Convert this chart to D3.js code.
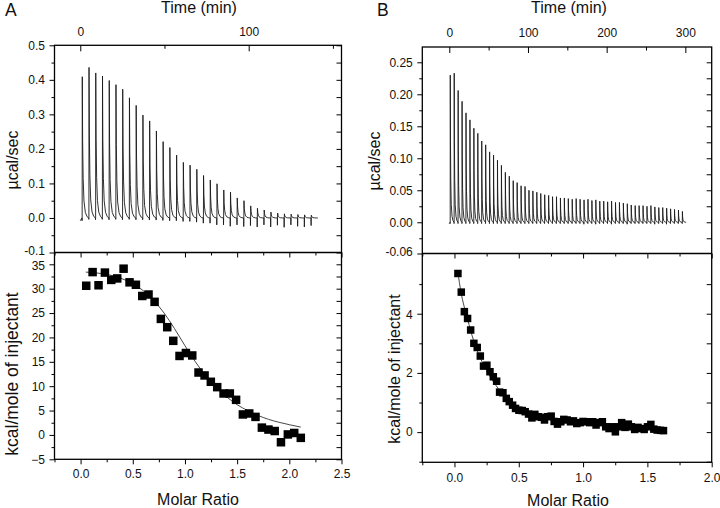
<!DOCTYPE html>
<html><head><meta charset="utf-8">
<script src="https://cdn.jsdelivr.net/npm/d3@7"></script>
<style>
body{margin:0;background:#fff}
svg{display:block}
text{font-family:"Liberation Sans",Arial,Helvetica,sans-serif;fill:#111}
</style>
</head><body>
<svg id="c" width="720" height="508"></svg>
<script>
// ---------------- DATA ----------------
// Panel A, raw thermogram (injection start times in min, peak heights in µcal/sec, small dips)
const injTimeA = [1,5,9,13,17,21,25,29,33,37,41,45,49,53,57,61,65,69,73,77,81,85,89,93,97,101,105,109,113,117,121,125,129,133,137];
const peakA = [0.409,0.436,0.420,0.411,0.398,0.386,0.373,0.348,0.326,0.298,0.281,0.252,0.221,0.204,0.182,0.161,0.153,0.141,0.123,0.110,0.099,0.081,0.075,0.058,0.050,0.035,0.028,0.023,0.017,0.014,0.012,0.011,0.010,0.009,0.008];
const dipA = [-0.008,-0.004,-0.005,-0.004,-0.005,-0.004,-0.005,-0.004,-0.005,-0.005,-0.006,-0.006,-0.007,-0.008,-0.008,-0.010,-0.010,-0.012,-0.015,-0.015,-0.020,-0.020,-0.024,-0.020,-0.025,-0.022,-0.026,-0.020,-0.026,-0.021,-0.027,-0.020,-0.024,-0.026,-0.022];
const traceEndA = 141;
// Panel A, integrated heats
const ratioA = [0.054,0.115,0.172,0.233,0.294,0.351,0.412,0.469,0.530,0.591,0.651,0.709,0.769,0.830,0.888,0.948,1.009,1.070,1.130,1.188,1.248,1.309,1.370,1.430,1.490,1.555,1.616,1.676,1.737,1.800,1.860,1.920,1.986,2.047,2.110];
const heatA = [30.6,33.4,30.7,33.3,31.8,32.1,34.1,31.3,30.8,28.5,28.8,27.3,23.8,22.1,19.3,16.2,16.8,16.3,12.8,12.2,10.9,9.8,8.5,8.5,7.2,4.2,4.4,3.7,1.5,1.1,0.8,-1.5,0.1,0.4,-0.6];
const fitRatioA = [0.05,0.2,0.35,0.5,0.6,0.7,0.8,0.9,1.0,1.1,1.2,1.3,1.4,1.5,1.6,1.7,1.8,1.9,2.0,2.11];
const fitHeatA = [33.4,33.1,32.4,31.0,29.6,27.6,25.0,21.8,18.3,15.0,12.1,9.7,7.8,6.2,5.0,4.0,3.2,2.6,2.1,1.6];

// Panel B, raw thermogram
const injTimeB = [1,6,11,16,21,26,31,36,41,46,51,56,61,66,71,76,81,86,91,96,101,106,111,116,121,126,131,136,141,146,151,156,161,166,171,176,181,186,191,196,201,206,211,216,221,226,231,236,241,246,251,256,261,266,271,276,281,286,291,296];
const peakB = [0.230,0.233,0.206,0.189,0.171,0.160,0.147,0.139,0.127,0.121,
               0.110,0.105,0.097,0.089,0.078,0.072,0.065,0.062,0.057,0.056,
               0.050,0.049,0.047,0.045,0.043,0.042,0.040,0.040,0.038,0.038,
               0.037,0.036,0.037,0.036,0.035,0.036,0.034,0.035,0.033,0.033,
               0.032,0.033,0.031,0.031,0.030,0.029,0.027,0.026,0.026,0.026,
               0.025,0.026,0.024,0.023,0.023,0.022,0.021,0.020,0.019,0.017];
const dipB = [-0.002,-0.002,-0.002,-0.002,-0.002,-0.002,-0.002,-0.002,-0.002,-0.002,
              -0.002,-0.002,-0.002,-0.002,-0.002,-0.002,-0.002,-0.002,-0.002,-0.002,
              -0.002,-0.002,-0.002,-0.002,-0.002,-0.002,-0.002,-0.002,-0.002,-0.002,
              -0.002,-0.002,-0.002,-0.002,-0.003,-0.002,-0.002,-0.003,-0.002,-0.002,
              -0.002,-0.003,-0.002,-0.002,-0.002,-0.003,-0.002,-0.002,-0.002,-0.002,
              -0.002,-0.002,-0.003,-0.002,-0.002,-0.003,-0.002,-0.002,-0.002,-0.002];
const traceEndB = 301;
// Panel B, integrated heats
const ratioB = [0.027,0.053,0.077,0.102,0.126,0.151,0.177,0.201,0.226,0.252,
                0.276,0.302,0.328,0.351,0.377,0.403,0.426,0.452,0.475,0.501,
                0.527,0.550,0.576,0.602,0.625,0.651,0.677,0.700,0.726,0.752,
                0.775,0.801,0.827,0.850,0.876,0.902,0.925,0.951,0.977,1.000,
                1.026,1.052,1.075,1.101,1.127,1.150,1.176,1.202,1.225,1.251,
                1.277,1.300,1.326,1.352,1.375,1.401,1.427,1.449,1.475,1.501,
                1.527,1.550,1.576,1.602,1.625];
const heatB = [5.36,4.73,4.07,3.84,3.45,3.00,2.86,2.57,2.23,2.26,
               2.04,1.87,1.72,1.35,1.33,1.14,1.03,0.91,0.80,0.74,
               0.73,0.69,0.61,0.48,0.60,0.52,0.50,0.41,0.52,0.54,
               0.36,0.27,0.35,0.43,0.41,0.35,0.38,0.29,0.32,0.36,
               0.35,0.32,0.35,0.24,0.32,0.35,0.18,0.12,0.18,0.01,
               0.18,0.32,0.16,0.27,0.18,0.09,0.16,0.12,0.09,0.18,
               0.26,0.10,0.07,0.06,0.05];
const fitRatioB = [0.027,0.05,0.1,0.15,0.2,0.25,0.3,0.35,0.4,0.5,0.6,0.7,0.8,1.0,1.2,1.4,1.625];
const fitHeatB = [5.38,4.75,3.85,3.08,2.52,2.08,1.72,1.42,1.17,0.84,0.62,0.49,0.41,0.31,0.23,0.16,0.09];

// tick labels
const timeLabelsA = [0,100], timeMinorA = [50,150];
const timeLabelsB = [0,100,200,300], timeMinorB = [50,150,250];
const upperTicksA = [-0.1,0,0.1,0.2,0.3,0.4,0.5];
const upperLabelsA = ["-0.1","0.0","0.1","0.2","0.3","0.4","0.5"];
const upperMinorA = [-0.05,0.05,0.15,0.25,0.35,0.45];
const upperTicksB = [0,0.05,0.10,0.15,0.20,0.25];
const upperLabelsB = ["-0.06","0.00","0.05","0.10","0.15","0.20","0.25"];
const upperMinorB = [-0.025,0.025,0.075,0.125,0.175,0.225];
const lowerTicksA = [-5,0,5,10,15,20,25,30,35];
const lowerMinorA = [-2.5,2.5,7.5,12.5,17.5,22.5,27.5,32.5];
const lowerTicksB = [0,2,4];
const lowerMinorB = [-1,1,3,5];
const ratioTicksA = [0,0.5,1.0,1.5,2.0,2.5];
const ratioMinorA = [-0.25,0.25,0.75,1.25,1.75,2.25];
const ratioTicksB = [0,0.5,1.0,1.5,2.0];
const ratioMinorB = [-0.25,0.25,0.75,1.25,1.75];

// peak glyph: [fraction of interval, fraction of peak height, fraction of dip]
const peakGlyph = [[0,0,0],[0.012,0,1],[0.03,0,0],[0.05,1,0],[0.1,0.55,0],[0.18,0.28,0],[0.3,0.12,0],[0.5,0.04,0],[0.75,0.01,0]];

// ---------------- DRAW ----------------
const svg = d3.select('#c');
const FONT = '"Liberation Sans",Arial,Helvetica,sans-serif';

function styleAxis(g, size) {
  g.select('.domain').remove();
  g.selectAll('line').attr('stroke', '#000').attr('stroke-width', 1);
  g.selectAll('text').attr('font-size', size).attr('font-family', FONT).attr('fill', '#111');
  return g;
}

function drawPanel(p) {
  const g = svg.append('g');
  const xT = d3.scaleLinear().domain(p.timeDomain).range([p.left, p.right]);
  const yU = d3.scaleLinear().domain(p.upperDomain).range([p.mid, p.top]);
  const xM = d3.scaleLinear().domain(p.ratioDomain).range([p.left, p.right]);
  const yL = d3.scaleLinear().domain(p.lowerDomain).range([p.bottom, p.mid]);

  // raw trace
  const pts = [[0, p.dip[0]]];
  p.inj.forEach((t, i) => {
    p.glyph.forEach(gl => pts.push([t + gl[0] * p.interval, p.peak[i] * gl[1] + p.dip[i] * gl[2]]));
  });
  pts.push([p.traceEnd, 0]);
  g.append('path')
    .attr('d', d3.line().x(d => xT(d[0])).y(d => yU(d[1]))(pts))
    .attr('fill', 'none').attr('stroke', '#1a1a1a').attr('stroke-width', 0.9)
    .attr('stroke-linejoin', 'round');

  // fit line
  const fit = p.fitX.map((x, i) => [x, p.fitY[i]]);
  g.append('path')
    .attr('d', d3.line().curve(d3.curveMonotoneX).x(d => xM(d[0])).y(d => yL(d[1]))(fit))
    .attr('fill', 'none').attr('stroke', '#333').attr('stroke-width', 0.9);

  // squares
  g.selectAll('rect.pt').data(p.ratio).join('rect').attr('class', 'pt')
    .attr('x', (d) => xM(d) - p.sq / 2)
    .attr('y', (d, i) => yL(p.heat[i]) - p.sq / 2)
    .attr('width', p.sq).attr('height', p.sq).attr('fill', '#000');

  // frame
  g.append('rect').attr('x', p.left).attr('y', p.top)
    .attr('width', p.right - p.left).attr('height', p.bottom - p.top)
    .attr('fill', 'none').attr('stroke', '#000').attr('stroke-width', 1.3);
  g.append('line').attr('x1', p.left).attr('x2', p.right).attr('y1', p.mid).attr('y2', p.mid)
    .attr('stroke', '#000').attr('stroke-width', 1.3);

  // time axis (top)
  styleAxis(g.append('g').attr('transform', `translate(0,${p.top})`)
    .call(d3.axisTop(xT).tickValues(p.timeLabels).tickSize(-6).tickPadding(p.timePad).tickFormat(d3.format('d'))), 12);
  styleAxis(g.append('g').attr('transform', `translate(0,${p.top})`)
    .call(d3.axisTop(xT).tickValues(p.timeMinor).tickSize(-3.5).tickFormat('')), 12);

  // upper y axis
  const uVals = p.upperLabelBottom ? [yU.domain()[0]].concat(p.upperTicks) : p.upperTicks;
  const uAx = styleAxis(g.append('g').attr('transform', `translate(${p.left},0)`)
    .call(d3.axisLeft(yU).tickValues(uVals).tickSize(5).tickPadding(4.5)
      .tickFormat((d, i) => p.upperLabels[i])), 12);
  // nudge the bottom label up slightly so it does not collide with the lower panel's top label
  uAx.selectAll('.tick text').filter((d, i) => i === 0).attr('dy', '0.2em');
  styleAxis(g.append('g').attr('transform', `translate(${p.left},0)`)
    .call(d3.axisLeft(yU).tickValues(p.upperMinor).tickSize(3).tickFormat('')), 12);
  styleAxis(g.append('g').attr('transform', `translate(${p.right},0)`)
    .call(d3.axisRight(yU).tickValues(p.upperTicks.concat(p.upperMinor)).tickSize(-5).tickFormat('')), 12);

  // lower y axis
  const lAx = styleAxis(g.append('g').attr('transform', `translate(${p.left},0)`)
    .call(d3.axisLeft(yL).tickValues(p.lowerTicks).tickSize(5).tickPadding(4.5).tickFormat(d3.format('d'))), 12);
  lAx.selectAll('.tick text').filter(d => d === p.lowerTicks[p.lowerTicks.length - 1]).attr('dy', '0.4em');
  styleAxis(g.append('g').attr('transform', `translate(${p.left},0)`)
    .call(d3.axisLeft(yL).tickValues(p.lowerMinor).tickSize(3).tickFormat('')), 12);
  styleAxis(g.append('g').attr('transform', `translate(${p.right},0)`)
    .call(d3.axisRight(yL).tickValues(p.lowerTicks.concat(p.lowerMinor)).tickSize(-5).tickFormat('')), 12);

  // molar ratio axis (bottom) + mirrored ticks at the divider
  styleAxis(g.append('g').attr('transform', `translate(0,${p.bottom})`)
    .call(d3.axisBottom(xM).tickValues(p.ratioTicks).tickSize(5).tickPadding(p.ratioPad).tickFormat(d3.format('.1f'))), 12);
  styleAxis(g.append('g').attr('transform', `translate(0,${p.bottom})`)
    .call(d3.axisBottom(xM).tickValues(p.ratioMinor).tickSize(3).tickFormat('')), 12);
  styleAxis(g.append('g').attr('transform', `translate(0,${p.mid})`)
    .call(d3.axisBottom(xM).tickValues(p.ratioTicks).tickSize(5).tickFormat('')), 12);
  styleAxis(g.append('g').attr('transform', `translate(0,${p.mid})`)
    .call(d3.axisBottom(xM).tickValues(p.ratioMinor).tickSize(3).tickFormat('')), 12);

  // titles
  g.append('text').attr('x', p.letterX).attr('y', 15.5).attr('font-size', 17.5).text(p.letter);
  g.append('text').attr('x', p.timeTitleX).attr('y', 13).attr('font-size', 16)
    .attr('text-anchor', 'middle').text('Time (min)');
  g.append('text').attr('x', p.ratioTitleX).attr('y', p.ratioTitleY).attr('font-size', 16)
    .attr('text-anchor', 'middle').text('Molar Ratio');
  g.append('text').attr('transform', `translate(${p.uLabelX},${p.uLabelY}) rotate(-90)`)
    .attr('font-size', 16).attr('text-anchor', 'middle').text('µcal/sec');
  g.append('text').attr('transform', `translate(${p.lLabelX},${p.lLabelY}) rotate(-90)`)
    .attr('font-size', p.lLabelSize).attr('text-anchor', 'middle').text('kcal/mole of injectant');
}

drawPanel({
  left: 54.5, right: 341.5, top: 45.3, mid: 252.5, bottom: 459.3,
  timeDomain: [-15.3, 155.1], upperDomain: [-0.1, 0.5], ratioDomain: [-0.25, 2.5], lowerDomain: [-5, 37.42],
  inj: injTimeA, peak: peakA, dip: dipA, interval: 4, glyph: peakGlyph, traceEnd: traceEndA,
  ratio: ratioA, heat: heatA, fitX: fitRatioA, fitY: fitHeatA, sq: 8.5,
  timeLabels: timeLabelsA, timeMinor: timeMinorA, timePad: 9.3,
  upperTicks: upperTicksA, upperLabels: upperLabelsA, upperMinor: upperMinorA, upperLabelBottom: false,
  lowerTicks: lowerTicksA, lowerMinor: lowerMinorA,
  ratioTicks: ratioTicksA, ratioMinor: ratioMinorA, ratioPad: 5.5,
  letter: 'A', letterX: 5, timeTitleX: 199, ratioTitleX: 198, ratioTitleY: 505,
  uLabelX: 17.5, uLabelY: 160, lLabelX: 17.5, lLabelY: 374, lLabelSize: 17.5
});

drawPanel({
  left: 422.3, right: 711.7, top: 47, mid: 253.5, bottom: 462.3,
  timeDomain: [-34.3, 333.5], upperDomain: [-0.0488, 0.2739], ratioDomain: [-0.25, 2.0], lowerDomain: [-1.02, 6.035],
  inj: injTimeB, peak: peakB, dip: dipB, interval: 5, glyph: peakGlyph, traceEnd: traceEndB,
  ratio: ratioB, heat: heatB, fitX: fitRatioB, fitY: fitHeatB, sq: 7.5,
  timeLabels: timeLabelsB, timeMinor: timeMinorB, timePad: 10.5,
  upperTicks: upperTicksB, upperLabels: upperLabelsB, upperMinor: upperMinorB, upperLabelBottom: true,
  lowerTicks: lowerTicksB, lowerMinor: lowerMinorB,
  ratioTicks: ratioTicksB, ratioMinor: ratioMinorB, ratioPad: 6.2,
  letter: 'B', letterX: 377, timeTitleX: 569, ratioTitleX: 568, ratioTitleY: 506,
  uLabelX: 380, uLabelY: 161, lLabelX: 400, lLabelY: 369, lLabelSize: 16
});
</script>
</body></html>
